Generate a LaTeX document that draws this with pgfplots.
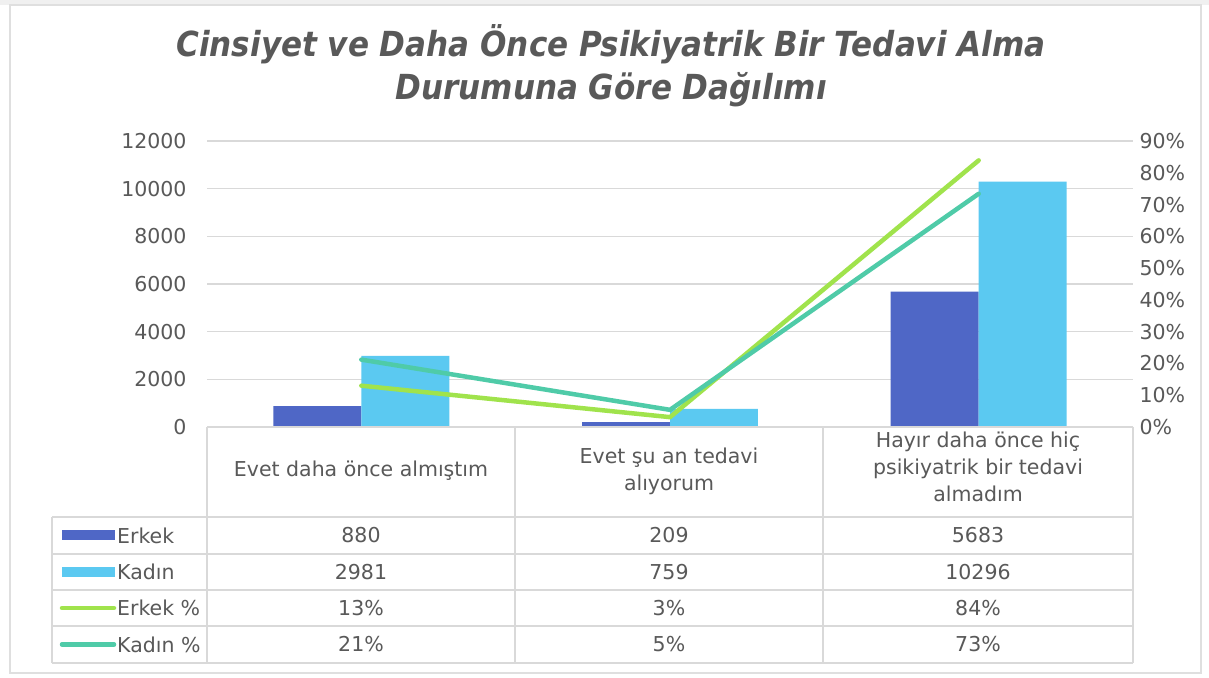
\documentclass[border=0pt]{standalone}
\usepackage{pgfplots}
\pgfplotsset{compat=1.18}
\usepackage{fontspec}
\setmainfont{DejaVu Sans}
\newfontfamily\titlefont{DejaVu Sans Condensed}
\definecolor{erkek}{HTML}{4F67C6}
\definecolor{kadin}{HTML}{5BC9F1}
\definecolor{erkekp}{HTML}{A0E34C}
\definecolor{kadinp}{HTML}{4FCBA8}
\definecolor{txt}{HTML}{595959}
\definecolor{tbl}{HTML}{D9D9D9}
\begin{document}
\begin{tikzpicture}[x=1pt,y=1pt]
\path[use as bounding box] (0,0) rectangle (1209,677);
\fill[white] (0,0) rectangle (1209,677);
\fill[gray!12] (0,672) rectangle (1209,677);
\draw[gray!25,line width=1.5pt] (10,4) rectangle (1201,672);
\node[font=\titlefont\bfseries\itshape\fontsize{34.5}{43}\selectfont, text=txt, align=center] at (611,611)
  {Cinsiyet ve Daha Önce Psikiyatrik Bir Tedavi Alma\\Durumuna Göre Dağılımı};
\begin{axis}[at={(207pt,250pt)}, anchor=south west, scale only axis,
  width=926pt, height=286pt,
  xmin=-0.5, xmax=2.5, ymin=0, ymax=12000,
  ytick={0,2000,4000,6000,8000,10000,12000},
  xtick=\empty,
  axis y line*=left, axis x line*=bottom,
  axis line style={draw=none},
  major tick length=0pt,
  ymajorgrids, grid style={draw=tbl, line width=1.2pt},
  scaled y ticks=false,
  yticklabel style={/pgf/number format/assume math mode=true,
    /pgf/number format/set thousands separator={},
    font=\fontsize{20.5}{24}\selectfont, text=txt, anchor=east, xshift=-17pt},
  clip=false]
\addplot[ybar, bar width=0.285, bar shift=-0.1425, fill=erkek, draw=none]
  coordinates {(0,880) (1,209) (2,5683)};
\addplot[ybar, bar width=0.285, bar shift=0.1425, fill=kadin, draw=none]
  coordinates {(0,2981) (1,759) (2,10296)};
\end{axis}
\begin{axis}[at={(207pt,250pt)}, anchor=south west, scale only axis,
  width=926pt, height=286pt,
  xmin=-0.5, xmax=2.5, ymin=0, ymax=0.9,
  ytick={0,0.1,0.2,0.3,0.4,0.5,0.6,0.7,0.8,0.9},
  yticklabels={0\%,10\%,20\%,30\%,40\%,50\%,60\%,70\%,80\%,90\%},
  xtick=\empty,
  axis y line*=right, axis x line*=bottom,
  axis line style={draw=none},
  major tick length=0pt,
  yticklabel style={font=\fontsize{20.5}{24}\selectfont, text=txt, anchor=west, xshift=3pt},
  clip=false]
\addplot[color=erkekp, line width=4.5pt, line cap=round]
  coordinates {(0,0.130) (1,0.031) (2,0.839)};
\addplot[color=kadinp, line width=4.5pt, line cap=round]
  coordinates {(0,0.212) (1,0.054) (2,0.734)};
\end{axis}
% table grid
\begin{scope}[tbl, line width=1.3pt]
\draw (207,250) -- (1133,250);
\foreach \y in {160,123,87,51,14} \draw (52,\y) -- (1133,\y);
\draw (52,160) -- (52,14);
\foreach \x in {207,515,823,1133} \draw (\x,250) -- (\x,14);
\end{scope}
\begin{scope}[every node/.style={font=\fontsize{20.5}{27}\selectfont, text=txt, align=center}]
\node at (361,206) {Evet daha önce almıştım};
\node at (669,206) {Evet şu an tedavi\\alıyorum};
\node at (978,210) {Hayır daha önce hiç\\psikiyatrik bir tedavi\\almadım};
\node at (361,141.5) {880};
\node at (669,141.5) {209};
\node at (978,141.5) {5683};
\node at (361,105) {2981};
\node at (669,105) {759};
\node at (978,105) {10296};
\node at (361,69) {13\%};
\node at (669,69) {3\%};
\node at (978,69) {84\%};
\node at (361,32.5) {21\%};
\node at (669,32.5) {5\%};
\node at (978,32.5) {73\%};
\fill[erkek] (62,137) rectangle (115,147);
\fill[kadin] (62,100) rectangle (115,110);
\draw[erkekp, line width=4.5pt, line cap=round] (62,69) -- (114,69);
\draw[kadinp, line width=4.5pt, line cap=round] (62,32.5) -- (114,32.5);
\node[anchor=west, inner sep=0pt] at (117,141.5) {Erkek};
\node[anchor=west, inner sep=0pt] at (117,105) {Kadın};
\node[anchor=west, inner sep=0pt] at (117,69) {Erkek \%};
\node[anchor=west, inner sep=0pt] at (117,32.5) {Kadın \%};
\end{scope}
\end{tikzpicture}
\end{document}
